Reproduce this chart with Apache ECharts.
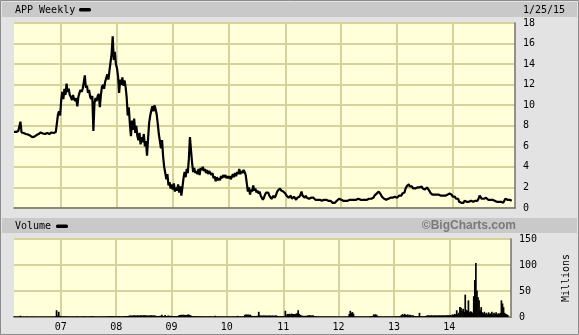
<!DOCTYPE html>
<html>
<head>
<meta charset="utf-8">
<script src="https://cdn.jsdelivr.net/npm/echarts@6/dist/echarts.min.js"></script>
<style>html,body{margin:0;padding:0;background:#e3e3e3}#c{width:579px;height:335px}</style>
</head>
<body>
<div id="c"></div>
<script>
// ---- data (weekly closes, millions of shares) ----
const startDate = '2006-03-03';
const padWeeks = 3;
const price2006 = [7.4,7.5,7.4,7.45,7.5,7.4,8.4,7.35,7.3,7.3,7.25,7.2,7.2,7.15,7.1,7.05,7.0,6.9,7.0,6.95,7.05,7.1,7.15,7.2,7.3,7.35,7.3,7.25,7.3,7.2,7.3,7.3,7.25,7.2,7.3,7.35,7.3,7.3,7.35,7.4,7.5,9.1,9.4,9.0];
const price2007 = [10.5,11.3,10.6,11.6,11.0,12.1,11.3,11.6,11.0,10.8,10.5,11.0,10.6,10.4,10.7,9.9,10.8,11.2,11.5,11.3,11.6,12.2,12.9,11.7,11.9,11.2,11.5,10.8,10.6,10.9,7.5,10.2,10.7,10.4,10.9,11.1,9.8,11.0,11.8,12.0,11.6,12.3,12.4,13.0,12.5,13.4,14.2,15.0,16.7,14.4,15.2,14.0];
const price2008 = [13.6,12.8,11.2,12.5,12.0,12.7,11.9,12.4,11.8,10.8,9.0,9.8,8.2,7.0,8.5,7.6,8.7,7.3,8.0,7.0,6.6,7.3,6.2,6.9,6.4,7.2,6.0,6.5,5.1,6.8,8.3,9.0,9.5,9.9,9.4,10.0,9.6,9.1,8.2,7.2,6.5,5.8,6.6,5.0,4.0,3.4,2.8,3.3,2.2,2.5,1.9,2.3];
const price2009 = [1.8,2.4,1.6,2.0,1.7,2.3,1.5,2.1,1.2,2.0,2.9,3.5,3.0,3.8,3.4,4.8,6.9,5.6,4.4,3.5,3.9,3.4,3.6,3.3,3.8,3.2,3.9,3.7,4.0,3.6,3.8,3.4,3.7,3.3,3.6,3.5,3.2,3.4,2.9,3.1,2.6,3.0,2.7,2.9,2.7,3.1,2.9,3.2,3.0,3.2,2.9,3.1];
const price2010 = [2.9,3.1,2.8,3.0,3.3,3.0,3.4,3.1,3.5,3.3,3.8,3.3,3.6,3.4,3.7,3.5,3.2,2.4,1.6,2.0,1.3,1.8,1.6,2.2,1.7,1.9,1.5,1.7,1.4,1.6,1.2,1.0,0.8,1.0,1.3,1.5,1.4,1.5,1.2,1.1,0.9,1.0,1.2,1.0,1.2,1.5,1.7,1.6,1.9,1.7,1.8,1.6,1.5];
const price2011 = [1.4,1.2,1.3,1.0,1.1,1.2,0.9,1.0,1.1,1.0,0.8,1.0,0.9,1.1,1.3,1.6,1.2,1.1,1.0,1.2,1.0,1.1,0.9,1.0,1.0,0.9,1.0,0.9,0.8,0.9,0.8,0.9,0.8,0.9,0.7,0.8,0.8,0.7,0.8,0.8,0.7,0.8,0.7,0.6,0.5,0.6,0.5,0.6,0.7,0.8,0.9,0.8];
const price2012 = [0.8,0.7,0.7,0.8,0.7,0.8,0.7,0.8,0.8,0.9,0.8,0.9,0.8,0.9,0.8,0.8,0.9,0.8,0.8,0.8,0.8,0.8,0.8,0.9,0.8,0.8,0.9,0.9,0.9,1.0,1.0,1.2,1.3,1.4,1.3,1.6,1.7,1.3,1.1,1.0,0.9,0.9,0.8,0.9,0.9,0.9,1.0,0.9,1.0,1.0,1.1,1.0];
const price2013 = [1.0,1.1,1.2,1.3,1.2,1.4,1.3,1.5,1.9,2.1,2.0,2.3,2.1,2.0,2.1,1.9,2.0,1.9,2.0,2.0,1.9,2.0,1.9,2.1,1.9,2.0,1.8,1.9,2.0,1.9,1.7,1.5,1.4,1.3,1.4,1.3,1.2,1.3,1.2,1.3,1.3,1.2,1.3,1.2,1.3,1.2,1.3,1.3,1.2,1.4,1.3,1.3];
const price2014 = [1.1,1.0,1.1,0.9,0.8,0.9,0.6,0.7,0.5,0.6,0.5,0.7,0.6,0.6,0.7,0.6,0.6,0.7,0.6,0.6,0.7,0.7,0.6,0.7,0.9,1.2,1.1,0.9,1.0,0.9,0.9,1.0,0.9,0.8,0.8,0.8,0.7,0.8,0.7,0.7,0.7,0.6,0.7,0.6,0.6,0.6,0.5,0.5,0.6,0.9,1.0,0.8];
const price2015 = [0.9,0.8,0.8,0.7];

const vol2006 = [1.2,0.9,1.0,0.8,1.1,0.9,2.5,1.0,0.8,0.9,0.7,0.8,1.0,0.9,0.8,0.7,0.9,1.1,0.8,0.9,0.7,0.8,0.9,0.8,0.7,0.9,0.8,1.0,0.8,0.7,0.9,0.8,0.7,0.8,0.9,0.8,1.0,0.9,1.1,1.3,13,3.0,10,2.2];
const vol2007 = [1.8,1.5,1.2,1.4,1.1,1.3,1.0,1.2,1.1,0.9,1.0,1.2,0.9,1.0,1.1,1.4,1.2,1.0,0.9,1.1,1.0,1.3,1.5,1.2,1.0,1.1,0.9,1.2,1.4,1.1,1.8,1.3,1.0,1.1,0.9,1.0,1.2,1.1,1.0,1.3,1.1,1.0,1.2,1.4,1.3,1.5,1.6,1.4,2.0,1.5,1.3,1.2];
const vol2008 = [1.4,1.3,1.6,1.5,1.2,1.4,1.3,1.5,1.6,1.8,2.0,1.9,2.2,2.8,3.0,2.6,3.2,2.9,3.1,2.7,3.3,3.0,2.8,3.4,3.1,2.9,3.5,3.2,3.0,2.8,3.1,2.7,3.0,3.3,2.9,3.1,2.8,2.6,1.9,2.0,1.8,2.2,2.5,4.5,2.0,1.8,4.0,2.1,1.9,3.0,2.0,2.2];
const vol2009 = [2.0,1.6,1.8,1.5,1.7,1.6,1.9,3.5,4.0,4.2,3.8,4.5,3.9,4.1,3.6,4.4,5.0,3.8,3.2,2.0,1.6,1.5,1.4,1.3,1.5,1.2,1.4,1.3,1.2,1.1,1.3,1.2,1.0,1.1,1.2,1.0,1.1,1.3,1.2,1.0,1.1,2.5,1.2,1.0,1.1,0.9,1.0,1.2,1.1,1.0,0.9,1.0];
const vol2010 = [1.0,0.9,1.1,1.0,0.9,1.0,1.2,1.1,1.0,1.3,2.2,1.2,1.0,1.1,1.3,1.2,1.5,4.5,5.0,4.2,4.8,4.0,4.6,2.5,2.0,1.8,2.2,1.9,2.1,2.4,10,2.8,3.0,2.5,2.7,3.1,2.6,2.9,2.4,2.8,3.0,2.6,2.5,2.9,2.7,2.4,3.1,2.6,1.8,1.6,1.5,1.7,1.4];
const vol2011 = [1.5,2.0,12,3.5,6.0,5.5,6.2,5.0,6.5,5.8,6.0,5.4,6.3,7.0,13,6.0,4.2,3.0,2.5,2.0,2.2,2.4,2.0,3.2,3.0,3.4,2.9,3.1,3.3,2.0,1.5,1.3,1.2,1.1,1.0,1.2,1.1,1.0,0.9,1.1,1.0,0.9,1.0,1.2,1.1,1.0,0.9,1.0,1.1,1.0,0.9,1.0];
const vol2012 = [0.9,1.0,0.8,0.9,1.0,0.9,0.8,1.0,1.2,1.5,6.0,12,8.0,9.5,6.5,1.5,1.2,1.0,0.9,1.0,0.8,0.9,1.0,0.9,0.8,1.0,0.9,1.1,1.0,1.2,1.4,1.8,2.0,5.0,4.5,5.2,3.5,1.6,1.2,1.0,0.9,1.0,0.8,0.9,1.0,0.9,1.1,1.0,0.9,1.0,1.1,1.2];
const vol2013 = [1.2,1.1,1.3,1.2,1.4,1.5,2.0,3.5,5.5,4.0,6.0,4.5,3.8,5.0,3.2,4.2,3.6,3.0,3.4,2.0,1.8,1.5,1.6,1.4,8.0,1.5,1.3,1.4,1.6,1.5,2.0,3.0,3.2,2.9,3.1,3.3,3.0,2.8,3.2,3.1,3.0,2.9,3.3,3.1,3.0,3.2,2.8,3.4,3.1,3.6,3.3,3.5];
const vol2014 = [3,4,3,5,4,6,5,13,6,8,19,18,12,16,10,43,14,12,32,9,11,10,8,40,71,104,51,38,32,13,19,9,7,10,6,8,5,9,6,7,10,5,8,6,9,5,7,6,8,32,26,19];
const vol2015 = [8,6,5,4];

const priceTicks = {min: 0, max: 18, interval: 2};
const volTicks = {min: 0, max: 150, interval: 50};
const lastLabelYear = 2014;

// ---- build ----
const prices = [].concat(price2006, price2007, price2008, price2009, price2010, price2011, price2012, price2013, price2014, price2015);
const volumes = [].concat(vol2006, vol2007, vol2008, vol2009, vol2010, vol2011, vol2012, vol2013, vol2014, vol2015);
const dates = [];
const d0 = new Date(startDate + 'T12:00:00Z');
for (let i = 0; i < prices.length + padWeeks; i++) {
  const d = new Date(d0.getTime() + i * 7 * 86400000);
  dates.push(d.toISOString().slice(0, 10));
}
function yearStart(idx) {
  if (idx === 0) return false;
  const y = +dates[idx].slice(0, 4);
  return y !== +dates[idx - 1].slice(0, 4) && y <= lastLabelYear;
}
const MONO = '"DejaVu Sans Mono", monospace';
const GRIDC = '#d5d29b';
const AXC = '#707070';

const chart = echarts.init(document.getElementById('c'), null, {renderer: 'canvas'});
chart.setOption({
  backgroundColor: '#e3e3e3',
  animation: false,
  graphic: [
    {type: 'rect', shape: {x: 0.5, y: 0.5, width: 578, height: 334}, style: {fill: 'none', stroke: '#8c8c8c', lineWidth: 1}, z: 100},
    {type: 'rect', shape: {x: 2, y: 2, width: 575, height: 15}, style: {fill: '#c9c9c9'}},
    {type: 'rect', shape: {x: 2, y: 218, width: 575, height: 15}, style: {fill: '#c9c9c9'}},
    {type: 'text', x: 15, y: 10, style: {text: 'APP Weekly', font: '10px ' + MONO, fill: '#000', verticalAlign: 'middle'}},
    {type: 'rect', shape: {x: 79, y: 8, width: 12, height: 3.5, r: 1.5}, style: {fill: '#000'}},
    {type: 'text', x: 523, y: 10, style: {text: '1/25/15', font: '10px ' + MONO, fill: '#000', verticalAlign: 'middle'}},
    {type: 'text', x: 15, y: 226, style: {text: 'Volume', font: '10px ' + MONO, fill: '#000', verticalAlign: 'middle'}},
    {type: 'rect', shape: {x: 56, y: 224.5, width: 12, height: 3.5, r: 1.5}, style: {fill: '#000'}},
    {type: 'text', x: 516, y: 226, style: {text: '\u00A9BigCharts.com', font: 'bold 12px "Liberation Sans", sans-serif', fill: '#7a7a7a', align: 'right', verticalAlign: 'middle'}}
  ],
  grid: [
    {left: 14, right: 64, top: 23, height: 185, show: true, backgroundColor: '#ffffd9', borderWidth: 0},
    {left: 14, right: 64, top: 239, height: 78, show: true, backgroundColor: '#ffffd9', borderWidth: 0}
  ],
  xAxis: [
    {type: 'category', gridIndex: 0, data: dates, boundaryGap: false,
      axisLine: {lineStyle: {color: AXC, width: 1.5}}, axisTick: {show: false}, axisLabel: {show: false},
      splitLine: {show: true, interval: yearStart, lineStyle: {color: GRIDC, width: 2}}},
    {type: 'category', gridIndex: 1, data: dates, boundaryGap: false,
      axisLine: {lineStyle: {color: AXC, width: 1.5}}, axisTick: {show: false},
      axisLabel: {show: true, interval: yearStart, formatter: v => v.slice(2, 4), color: '#000', fontFamily: MONO, fontSize: 10, margin: 5},
      splitLine: {show: true, interval: yearStart, lineStyle: {color: GRIDC, width: 2}}}
  ],
  yAxis: [
    {type: 'value', gridIndex: 0, position: 'right', min: priceTicks.min, max: priceTicks.max, interval: priceTicks.interval,
      axisLine: {show: true, lineStyle: {color: AXC, width: 1.5}}, axisTick: {show: false},
      axisLabel: {margin: 8, color: '#000', fontFamily: MONO, fontSize: 10},
      splitLine: {lineStyle: {color: GRIDC, width: 2}}},
    {type: 'value', gridIndex: 1, position: 'right', min: volTicks.min, max: volTicks.max, interval: volTicks.interval,
      name: 'Millions', nameLocation: 'middle', nameRotate: 90, nameGap: 50,
      nameTextStyle: {color: '#000', fontFamily: MONO, fontSize: 10},
      axisLine: {show: true, lineStyle: {color: AXC, width: 1.5}}, axisTick: {show: false},
      axisLabel: {margin: 8, color: '#000', fontFamily: MONO, fontSize: 10},
      splitLine: {lineStyle: {color: GRIDC, width: 2}}}
  ],
  series: [
    {type: 'line', xAxisIndex: 0, yAxisIndex: 0, data: prices, showSymbol: false, symbol: 'none',
      lineStyle: {color: '#000', width: 2.2}, z: 5},
    {type: 'bar', xAxisIndex: 1, yAxisIndex: 1, data: volumes, barWidth: 1.7,
      itemStyle: {color: '#000'}, z: 5}
  ]
});
</script>
</body>
</html>
